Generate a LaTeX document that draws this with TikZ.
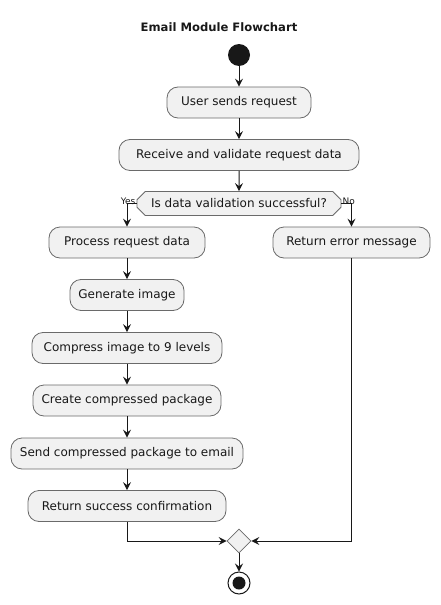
\documentclass[tikz,border=0pt]{standalone}
\usepackage{fontspec}
\setmainfont{DejaVu Sans}
\usetikzlibrary{arrows.meta,shapes.geometric,shapes.misc}
\definecolor{boxfill}{HTML}{F1F1F1}
\definecolor{boxline}{HTML}{6A6A6A}
\definecolor{ink}{HTML}{181818}
\tikzset{
  act/.style={draw=boxline, fill=boxfill, rounded corners=11pt, line width=0.8pt,
    minimum height=31pt, inner xsep=0pt, font=\fontsize{12}{14}\selectfont, text=ink},
  flow/.style={draw=ink, line width=1pt, -{Stealth[length=8pt,width=8pt,inset=3pt]}},
  plain/.style={draw=ink, line width=1pt},
  lbl/.style={font=\fontsize{9}{10}\selectfont, text=ink, inner sep=0pt}
}
\begin{document}
\begin{tikzpicture}[x=1pt,y=-1pt]
\useasboundingbox (0,0) rectangle (440,605);
\node[font=\bfseries\fontsize{11.6}{13}\selectfont, text=ink] (title) at (219,27) {Email Module Flowchart};
\node[circle, fill=ink, minimum size=22pt, inner sep=0pt] (start) at (239,55) {};
\node[act, minimum width=144pt] (a1) at (239,102.5) {User sends request};
\node[act, minimum width=240pt] (a2) at (239,155) {Receive and validate request data};
\node[chamfered rectangle, chamfered rectangle xsep=2cm, chamfered rectangle angle=45, draw=boxline, fill=boxfill, line width=0.8pt,
  minimum width=204pt, minimum height=24pt, inner sep=0pt, font=\fontsize{12}{14}\selectfont, text=ink] (dec) at (239,203.5) {Is data validation successful?};
\node[act, minimum width=156pt] (p1) at (127,242.5) {Process request data};
\node[act, minimum width=157pt] (e1) at (351.5,242.5) {Return error message};
\node[act, minimum width=114pt] (p2) at (127,295) {Generate image};
\node[act, minimum width=190pt] (p3) at (127,348) {Compress image to 9 levels};
\node[act, minimum width=188pt] (p4) at (127,400.5) {Create compressed package};
\node[act, minimum width=232pt] (p5) at (127,453.5) {Send compressed package to email};
\node[act, minimum width=198pt] (p6) at (127,506) {Return success confirmation};
\node[diamond, draw=boxline, fill=boxfill, line width=0.8pt, minimum width=24pt, minimum height=24pt, inner sep=0pt] (merge) at (239,541) {};
\node[circle, draw=ink, line width=1pt, minimum size=22pt, inner sep=0pt] (stop) at (239,583) {};
\node[circle, fill=ink, minimum size=13pt, inner sep=0pt] (stopin) at (239,583) {};
\draw[flow] (start) -- (a1);
\draw[flow] (a1) -- (a2);
\draw[flow] (a2) -- (dec);
\draw[flow] (dec.west) -| (p1.north);
\draw[flow] (dec.east) -| (e1.north);
\node[lbl, anchor=south east] (yes) at ([xshift=-1pt,yshift=-1.5pt]dec.west) {Yes};
\node[lbl, anchor=south west] (no) at ([xshift=1pt,yshift=-1.5pt]dec.east) {No};
\draw[flow] (p1) -- (p2);
\draw[flow] (p2) -- (p3);
\draw[flow] (p3) -- (p4);
\draw[flow] (p4) -- (p5);
\draw[flow] (p5) -- (p6);
\draw[flow] (p6.south) |- (merge.west);
\draw[flow] (e1.south) |- (merge.east);
\draw[flow] (merge.south) -- (stop.north);
\end{tikzpicture}
\end{document}
